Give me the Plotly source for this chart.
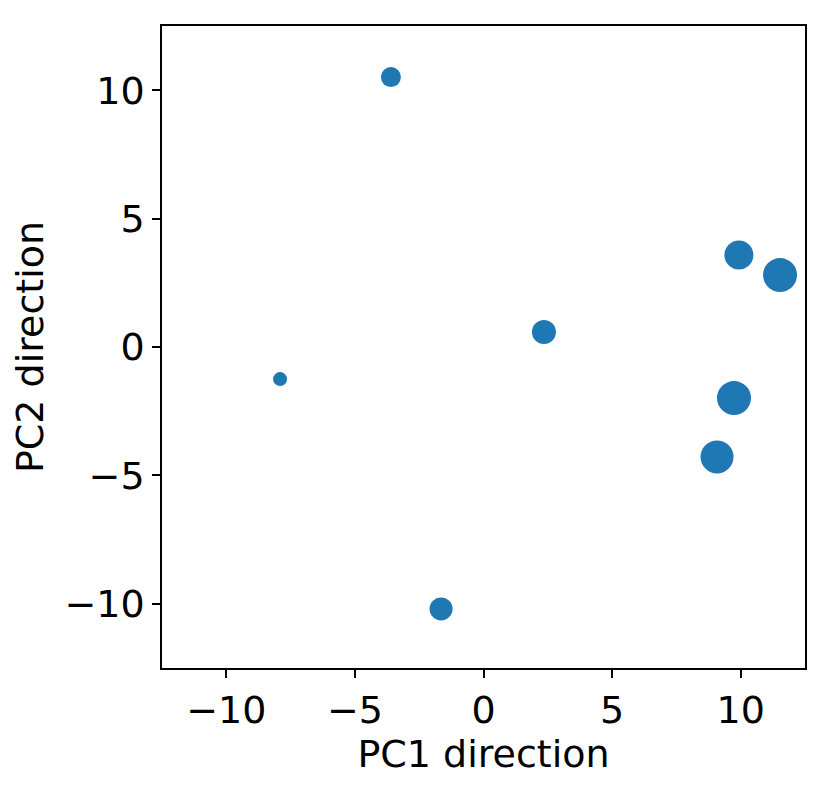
import plotly.graph_objects as go

pc1 = [-3.60, 9.93, 11.53, 2.35, -7.91, 9.74, 9.08, -1.65]
pc2 = [10.51, 3.58, 2.80, 0.58, -1.25, -1.99, -4.28, -10.20]
marker_px = [20, 29, 34, 24, 14, 34, 33, 23]
tick_vals = [-10, -5, 0, 5, 10]
tick_text = ["\u221210", "\u22125", "0", "5", "10"]

fig = go.Figure(go.Scatter(
    x=pc1, y=pc2, mode="markers",
    marker=dict(size=marker_px, color="#1f77b4", opacity=1, line=dict(width=0)),
))

axis_common = dict(
    showgrid=False, zeroline=False, showline=True, mirror=True,
    linecolor="black", linewidth=1.5, ticks="outside", ticklen=8,
    tickwidth=1.5, tickcolor="black", tickvals=tick_vals, ticktext=tick_text,
    tickfont=dict(family="DejaVu Sans", size=38, color="black"),
    title_font=dict(family="DejaVu Sans", size=38, color="black"),
)

fig.update_xaxes(range=[-12.5, 12.5], title_text="PC1 direction", title_standoff=8, **axis_common)
fig.update_yaxes(range=[-12.5, 12.5], title_text="PC2 direction", title_standoff=12, **axis_common)

fig.update_layout(
    width=831, height=787,
    margin=dict(l=154, r=34, t=18, b=127),
    plot_bgcolor="white", paper_bgcolor="white",
    showlegend=False,
)

fig.write_html("out.html")
